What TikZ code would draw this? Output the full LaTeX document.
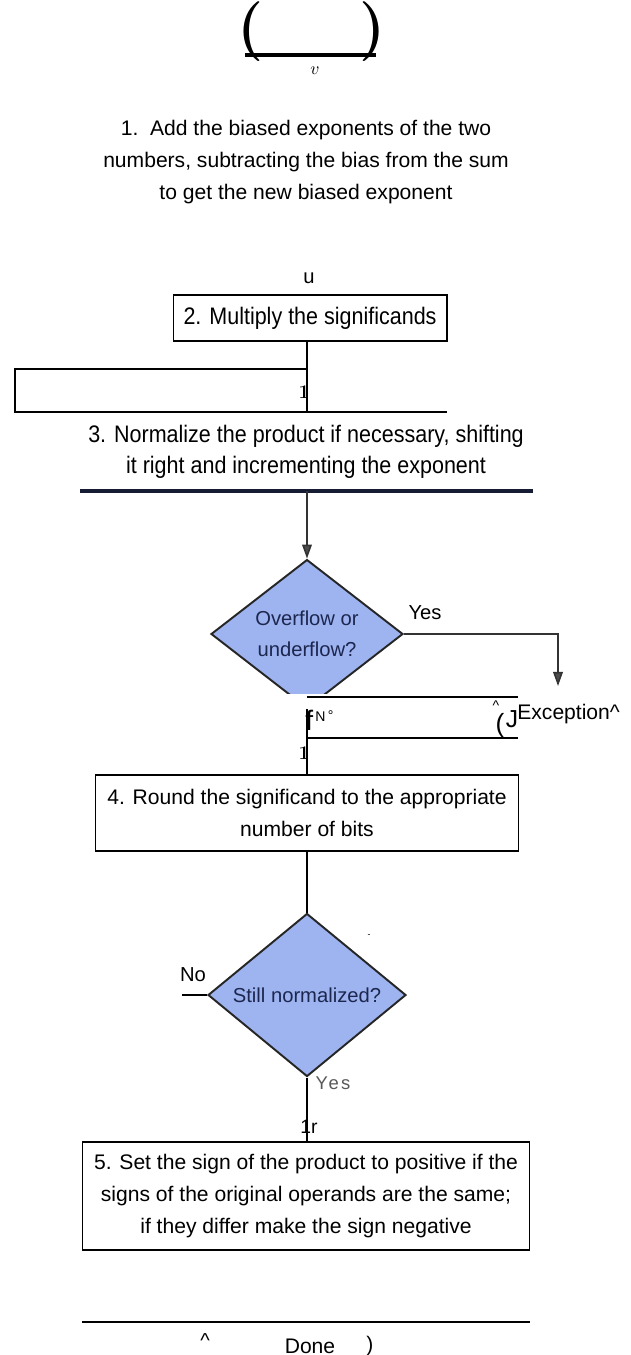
\documentclass[tikz,border=0pt]{standalone}
\usepackage{fontspec}
\usepackage{tikz}
\usetikzlibrary{shapes.geometric, arrows.meta, positioning}
\newfontfamily\flowfont{Liberation Sans}
\newfontfamily\narrowfont{Liberation Sans}[FakeStretch=0.9]
\newfontfamily\spacedfont{Liberation Sans}[LetterSpace=12]
\definecolor{decblue}{RGB}{158, 180, 240}
\definecolor{decink}{RGB}{28, 38, 78}
\definecolor{rulenavy}{RGB}{22, 28, 52}

\begin{document}
\begin{tikzpicture}[
  x=0.02cm, y=-0.02cm,
  every node/.style={inner sep=0pt},
  stepbox/.style={draw, line width=0.6pt, align=center, font=\flowfont\fontsize{12}{18}\selectfont},
  steptext/.style={align=center, font=\flowfont\fontsize{12}{18}\selectfont},
  narrowtext/.style={align=center, font=\narrowfont\fontsize{13.6}{17.6}\selectfont},
  decision/.style={diamond, draw=black!85, line width=1.1pt, fill=decblue, text=decink, align=center, font=\flowfont\fontsize{11.5}{17.5}\selectfont},
  answer/.style={font=\flowfont\fontsize{11.5}{13}\selectfont},
  flowline/.style={line width=0.6pt},
  flowarrow/.style={line width=0.9pt, draw=black!80, -{Triangle[length=8pt, width=5.5pt, fill=black!70]}}
]
  \useasboundingbox (0,0) rectangle (630,1355);

  % heading
  \node[font=\bfseries\fontsize{34}{34}\selectfont] (lparen) at (251,32) {(};
  \node[font=\bfseries\fontsize{34}{34}\selectfont] (rparen) at (373,32) {)};
  \draw[line width=2.3pt] (245,55) -- (376,55);
  \node (vvar) at (315,71) {$v$};

  \node[steptext] (addexp) at (306,162) {1.\ \ Add the biased exponents of the two\\numbers, subtracting the bias from the sum\\to get the new biased exponent};
  \node[answer] (umark) at (309,278) {u};
  \node[stepbox, narrowtext, minimum width=5.48cm, minimum height=0.92cm] (mult) at (310,318) {2. Multiply the significands};

  \coordinate (multend) at (307,412);
  \draw[flowline] (mult.south -| multend) -- (multend);
  \draw[flowline] (307,369) -- (15,369) -- (15,412) -- (447,412);
  \node[font=\rmfamily\bfseries\fontsize{11}{11}\selectfont] (tickone) at (304,392) {1};

  \node[narrowtext] (norm) at (306,452) {3. Normalize the product if necessary, shifting\\it right and incrementing the exponent};
  \draw[line width=1.8pt, rulenavy] (80,491) -- (533,491);
  \coordinate (barmid) at (307,491);

  \node[decision, minimum width=3.84cm, minimum height=2.72cm] (ovf) at (307,634) {Overflow or\\underflow?};
  \draw[flowarrow] (barmid) -- (ovf.north);
  \node[answer] (ovfyes) at (425,613) {Yes};
  \coordinate (excturn) at (558,634);
  \coordinate (excend) at (558,686);
  \draw[flowarrow] (ovf.east) -- (excturn) -- (excend);

  \fill[white] (280,694) rectangle (520,745);
  \draw[flowline] (307,697) -- (518,697);
  \draw[flowline] (307,738) -- (518,738);
  \node[font=\flowfont\fontsize{16}{16}\selectfont, anchor=west] (nof) at (305,720) {f};
  \node[font=\flowfont\fontsize{8}{8}\selectfont, anchor=west] (noN) at (315,716) {N\,\raisebox{1pt}{°}};
  \node[font=\flowfont\fontsize{8}{8}\selectfont] (exccaret) at (496,706) {\^{}};
  \node[font=\flowfont\fontsize{15}{15}\selectfont] (excparen) at (500,726) {(};
  \node[font=\flowfont\fontsize{14}{14}\selectfont] (excj) at (512,719) {J};
  \node[font=\flowfont\fontsize{12}{12}\selectfont, anchor=west] (exc) at (517,714) {Exception\^{}};
  \node[font=\rmfamily\bfseries\fontsize{11}{11}\selectfont] (ticktwo) at (304,753) {1};

  \node[stepbox, minimum width=8.46cm, minimum height=1.52cm] (rnd) at (307,813) {4. Round the significand to the appropriate\\number of bits};
  \draw[flowline] (ovf.south) -- (rnd.north);

  \node[decision, minimum width=3.96cm, minimum height=2.7cm, font=\flowfont\fontsize{11.5}{13}\selectfont] (still) at (307,995) {Still normalized?};
  \draw[flowline] (rnd.south) -- (still.north);
  \node[font=\flowfont\fontsize{5}{5}\selectfont] (speck) at (369,936) {-};
  \node[answer] (stillno) at (193,975) {No};
  \coordinate (noend) at (182,995);
  \draw[flowline] (noend) -- (still.west);
  \node[font=\spacedfont\fontsize{10.5}{12}\selectfont, text=black!65] (stillyes) at (333,1083) {Yes};
  \node[font=\flowfont\fontsize{11}{11}\selectfont] (onemark) at (309,1127) {1r};

  \node[stepbox, minimum width=8.96cm, minimum height=2.16cm] (sign) at (306,1196) {5. Set the sign of the product to positive if the\\signs of the original operands are the same;\\if they differ make the sign negative};
  \draw[flowline] (still.south) -- (still.south |- sign.north);

  \draw[flowline] (82,1322) -- (530,1322);
  \node[answer] (donecaret) at (205,1341) {\^{}};
  \node[steptext] (done) at (310,1346) {Done};
  \node[steptext] (doneparen) at (370,1346) {)};
\end{tikzpicture}
\end{document}
